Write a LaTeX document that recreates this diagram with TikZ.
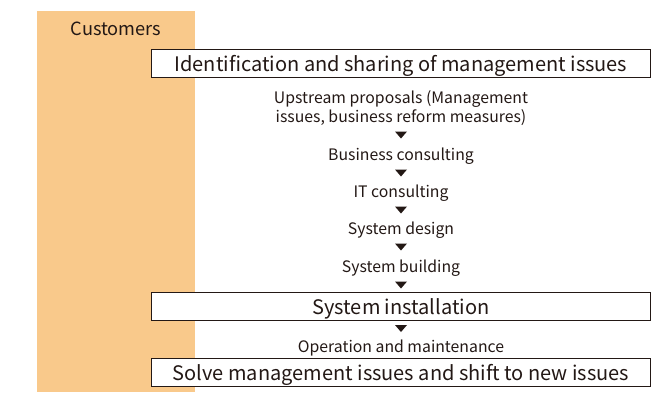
\documentclass[tikz,border=0pt]{standalone}
\usepackage{fontspec}
\setmainfont{Noto Sans CJK JP}
\definecolor{custorange}{HTML}{F9C98B}
\definecolor{darkink}{HTML}{231815}

\begin{document}
\begin{tikzpicture}[x=1pt,y=1pt,
    stage/.style={draw=darkink,line width=1.1pt,fill=white,minimum width=499pt,minimum height=28pt,inner sep=0pt,text height=15.5pt,text depth=0pt,text=darkink,font=\fontsize{20}{24}\selectfont},
    phase/.style={align=center,inner sep=0pt,text=darkink,font=\fontsize{15.8}{19}\selectfont},
    downtri/.style={fill=darkink}]
    \useasboundingbox (0,0) rectangle (669,-392);
    \fill[custorange] (37,-11) rectangle (195,-392);
    \node[text=darkink,font=\fontsize{18.2}{20}\selectfont] (cust) at (116,-29) {Customers};
    \node[stage] (ident) at (401,-63.5) {Identification and sharing of management issues};
    \node[phase] (upstream) at (401,-108) {Upstream proposals (Management\\issues, business reform measures)};
    \node[phase] (bizcons) at (401,-156) {Business consulting};
    \node[phase] (itcons) at (401,-193) {IT consulting};
    \node[phase] (design) at (401,-230.5) {System design};
    \node[phase] (build) at (401,-268.5) {System building};
    \node[stage] (install) at (401,-306.5) {System installation};
    \node[phase] (operate) at (401,-348.5) {Operation and maintenance};
    \node[stage] (solve) at (401,-372.5) {Solve management issues and shift to new issues};
    \foreach \y [count=\i] in {135,173,210,247,285,328.5}{
        \coordinate (t\i) at (401,-\y);
        \fill[downtri] (t\i) ++(-6,3.5) -- ++(12,0) -- ++(-6,-7) -- cycle;
    }
\end{tikzpicture}
\end{document}
